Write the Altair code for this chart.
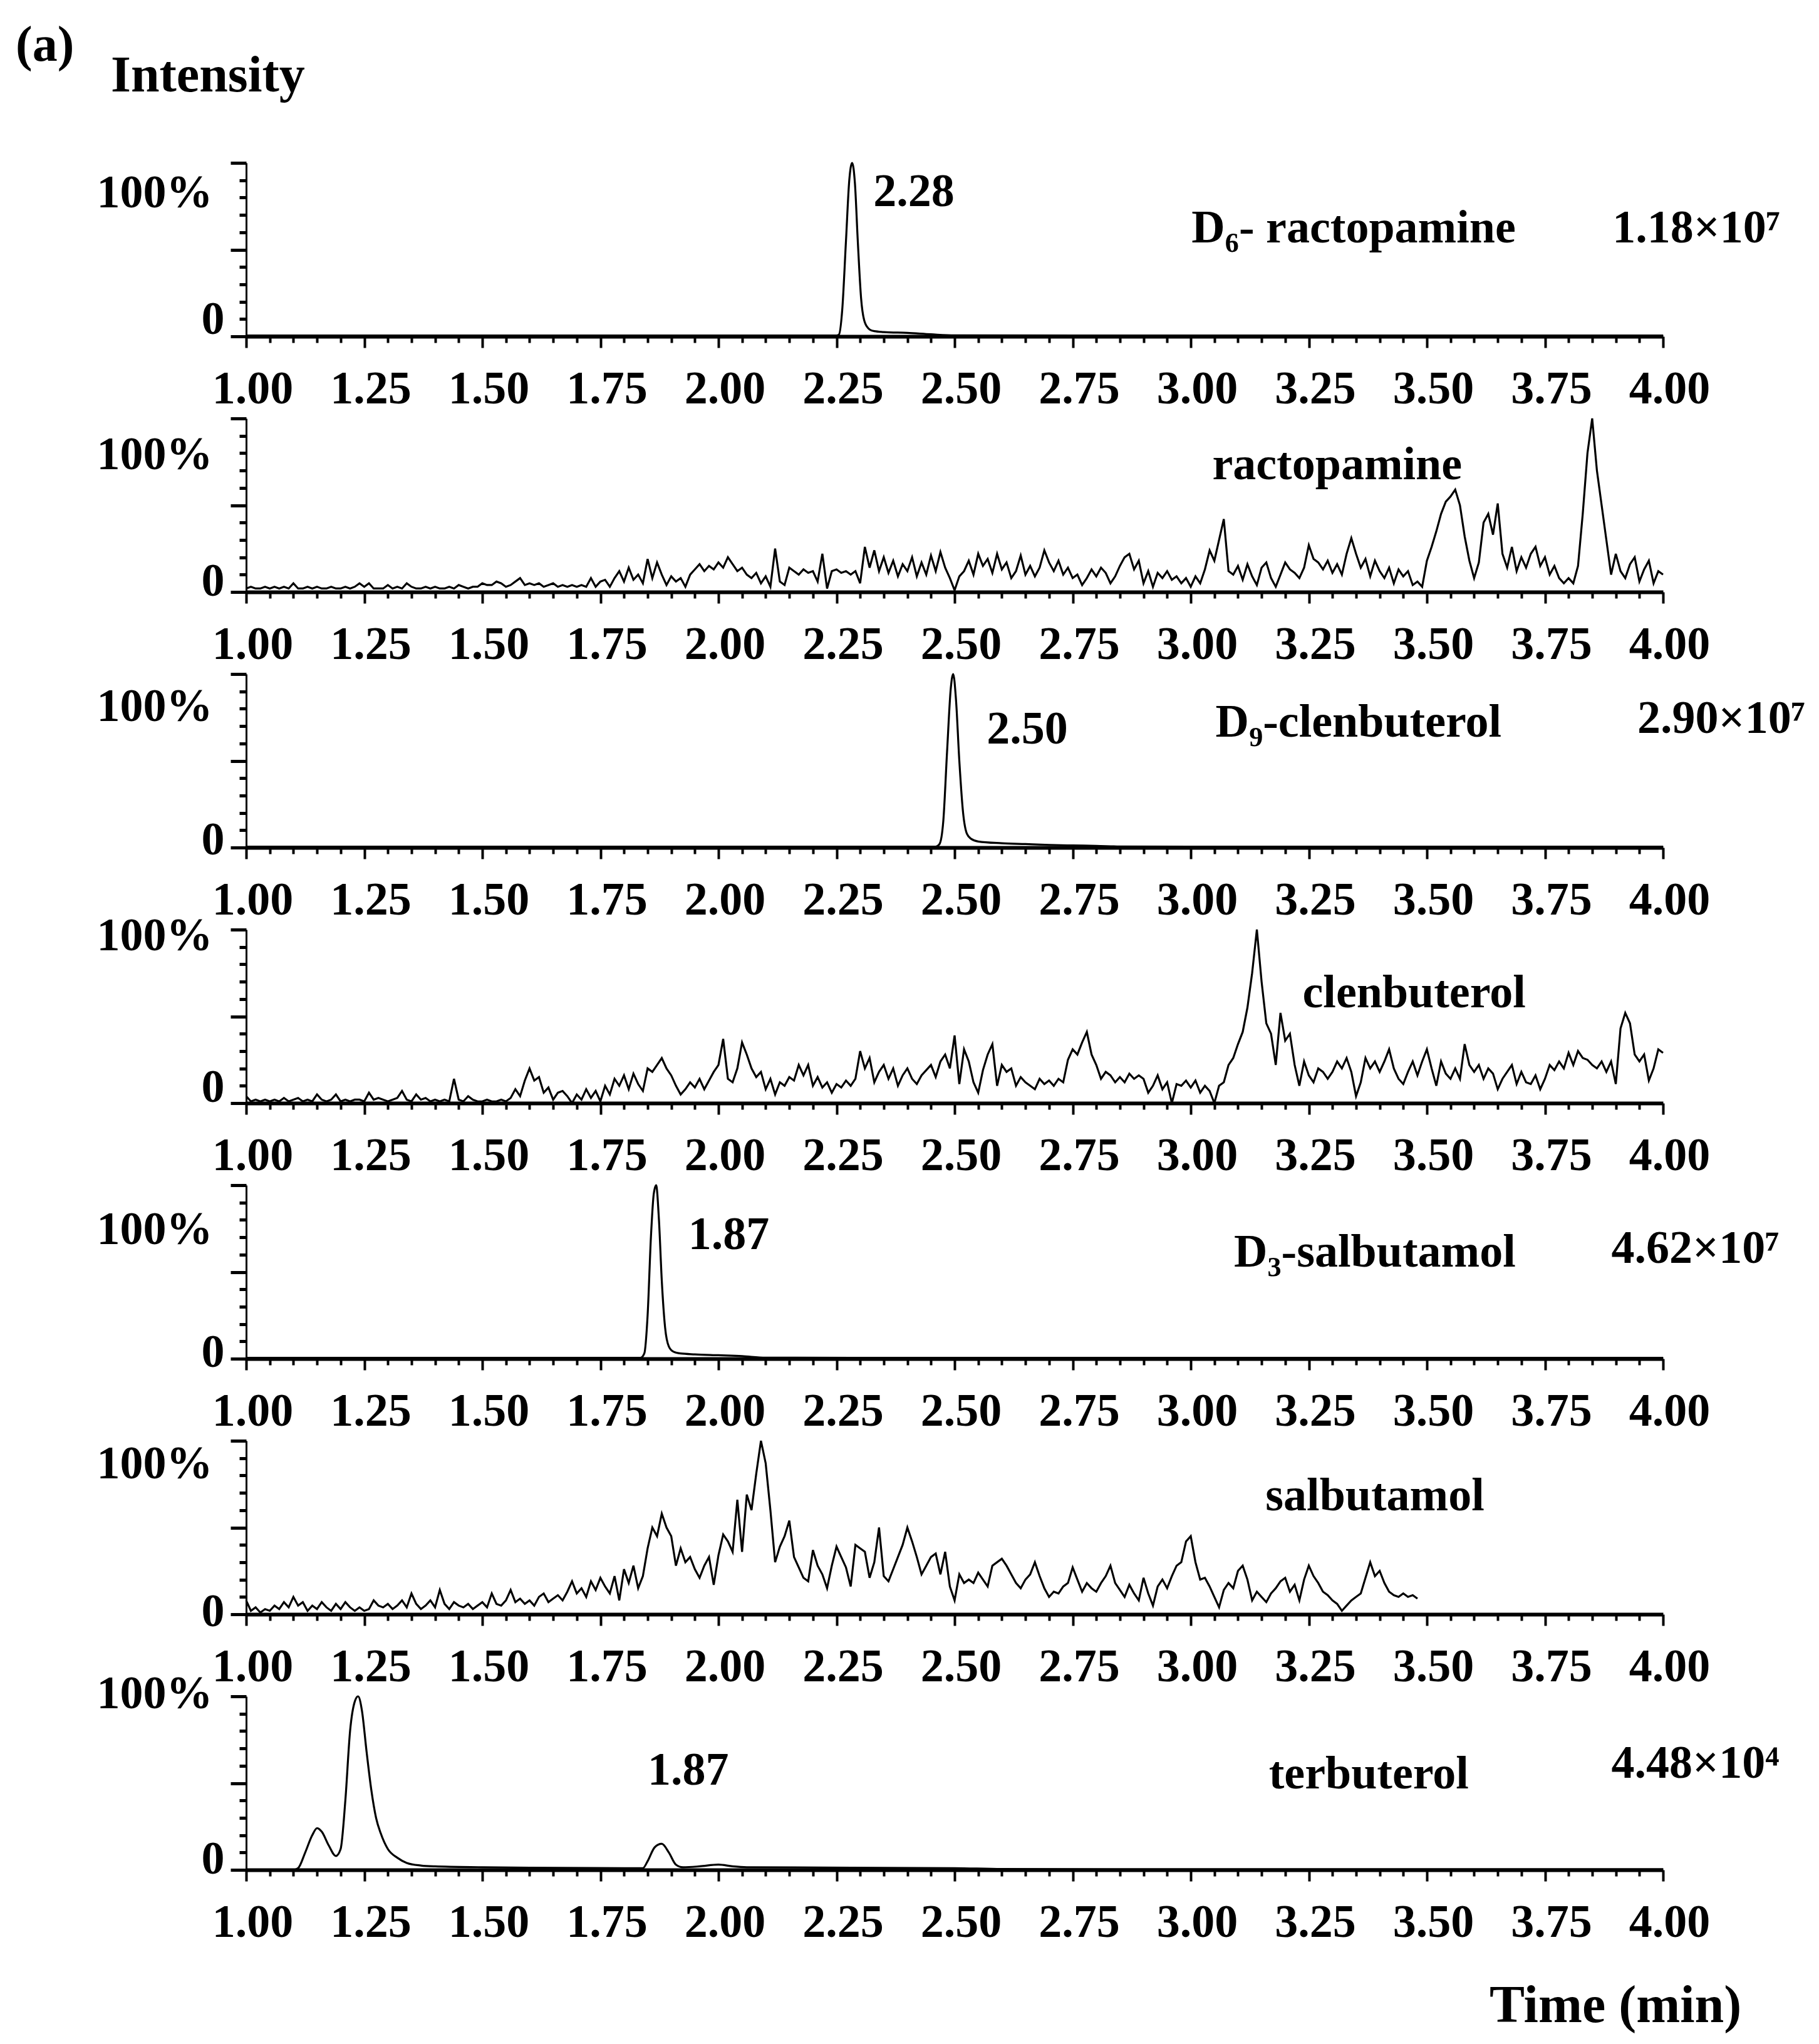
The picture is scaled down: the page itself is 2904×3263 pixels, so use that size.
import altair as alt
import pandas as pd

FONT = "Liberation Serif"

# ---------------- axis tick values ----------------
X_TICKS = [round(1.0 + 0.05 * i, 2) for i in range(61)]
Y_TICKS = [0, 10, 20, 30, 40, 50, 60, 70, 80, 90, 100]

SCAN_STEP = 0.01


def scan_times(start, n):
    return [round(start + SCAN_STEP * i, 2) for i in range(n)]


# ---------------- traces (relative intensity, %) ----------------
# D6-ractopamine
D6R_T = [1.00, 1.50, 2.00, 2.25, 2.255, 2.262, 2.27, 2.277, 2.283, 2.289, 2.295,
         2.302, 2.31, 2.32, 2.33, 2.35, 2.40, 2.45, 2.50, 3.00, 3.50, 4.00]
D6R_V = [0.5, 0.5, 0.5, 0.5, 1, 15, 55, 90, 100, 88, 55,
         22, 8, 4, 3, 2.5, 2, 1.2, 0.6, 0.5, 0.5, 0.5]

# ractopamine (scans from 1.00 min, 0.01 min apart)
RAC_V = [
    2, 3, 2, 2, 3, 2, 3, 2, 3, 2,
    5, 2, 2, 3, 2, 3, 2, 2, 3, 2,
    2, 3, 2, 3, 5, 3, 5, 2, 2, 2,
    4, 2, 3, 2, 5, 3, 2, 2, 3, 2,
    3, 2, 2, 3, 2, 4, 3, 2, 3, 3,
    5, 4, 4, 6, 5, 3, 4, 6, 8, 4,
    5, 4, 5, 3, 4, 5, 3, 4, 3, 4,
    3, 4, 3, 8, 3, 6, 7, 3, 8, 12,
    6, 14, 7, 10, 5, 19, 8, 17, 10, 4,
    9, 6, 8, 3, 10, 13, 16, 12, 15, 13,
    17, 14, 20, 16, 12, 14, 10, 8, 11, 5,
    9, 3, 25, 6, 4, 14, 12, 10, 13, 11,
    12, 6, 22, 2, 12, 13, 11, 12, 10, 12,
    5, 26, 14, 24, 12, 20, 11, 18, 9, 16,
    12, 20, 9, 17, 10, 21, 12, 23, 14, 8,
    1, 9, 12, 18, 10, 22, 15, 19, 11, 22,
    13, 17, 8, 12, 21, 10, 15, 9, 14, 24,
    17, 12, 18, 10, 14, 8, 10, 4, 8, 13,
    9, 14, 11, 5, 9, 15, 20, 22, 13, 18,
    5, 12, 3, 11, 8, 12, 7, 9, 5, 8,
    3, 9, 5, 13, 24, 18, 30, 42, 12, 10,
    15, 7, 16, 9, 4, 14, 17, 8, 3, 10,
    17, 13, 11, 8, 14, 27, 19, 17, 13, 18,
    11, 16, 10, 22, 31, 22, 14, 19, 9, 18,
    12, 8, 14, 5, 13, 9, 12, 4, 6, 3,
    18, 26, 35, 45, 52, 55, 59, 50, 32, 18,
    8, 17, 40, 45, 33, 51, 22, 14, 26, 12,
    20, 14, 22, 26, 15, 20, 10, 15, 8, 5,
    8, 5, 15, 45, 80, 100, 70, 50, 30, 10,
    22, 12, 8, 16, 20, 6, 13, 18, 5, 12,
    10,
]

# D9-clenbuterol
D9C_T = [1.00, 2.00, 2.46, 2.468, 2.476, 2.484, 2.492, 2.497, 2.503, 2.51, 2.518,
         2.526, 2.535, 2.55, 2.60, 2.65, 2.70, 2.75, 2.80, 2.85, 3.00, 4.00]
D9C_V = [0.5, 0.5, 0.5, 2, 15, 55, 92, 100, 85, 50, 20,
         8, 5, 3.5, 2.5, 2, 1.5, 1.2, 1, 0.6, 0.5, 0.5]

# clenbuterol (scans from 1.00 min)
CLE_V = [
    4, 1, 2, 1, 2, 1, 2, 1, 3, 1,
    2, 3, 1, 2, 1, 5, 2, 1, 2, 5,
    1, 2, 1, 2, 2, 1, 6, 2, 3, 2,
    1, 2, 3, 7, 2, 1, 5, 2, 3, 1,
    2, 1, 2, 1, 14, 2, 1, 4, 2, 1,
    1, 2, 1, 1, 2, 1, 3, 8, 4, 13,
    20, 13, 15, 6, 9, 2, 6, 7, 4, 0,
    5, 2, 8, 3, 7, 1, 10, 5, 14, 10,
    16, 8, 17, 11, 7, 20, 18, 22, 26, 20,
    16, 10, 5, 8, 12, 9, 14, 8, 13, 18,
    22, 37, 14, 12, 20, 35, 28, 20, 15, 18,
    8, 14, 5, 12, 10, 15, 13, 22, 16, 22,
    10, 15, 9, 12, 6, 11, 9, 13, 10, 14,
    30, 20, 26, 12, 18, 22, 14, 20, 10, 16,
    20, 14, 11, 16, 19, 22, 15, 24, 28, 20,
    39, 11, 31, 24, 12, 6, 19, 28, 34, 10,
    22, 18, 20, 10, 15, 12, 10, 8, 14, 11,
    13, 10, 14, 12, 25, 31, 28, 35, 41, 28,
    22, 14, 18, 16, 12, 15, 12, 17, 14, 16,
    14, 6, 10, 16, 8, 12, 0, 11, 10, 13,
    9, 13, 6, 10, 7, 0, 10, 12, 22, 26,
    34, 41, 55, 75, 100, 70, 46, 40, 22, 52,
    36, 40, 22, 10, 24, 16, 12, 20, 18, 14,
    18, 24, 20, 26, 18, 4, 12, 26, 20, 24,
    18, 24, 31, 20, 14, 11, 18, 24, 16, 24,
    31, 20, 10, 24, 17, 14, 20, 14, 34, 22,
    18, 22, 14, 20, 17, 8, 14, 18, 22, 11,
    18, 12, 11, 16, 8, 14, 22, 19, 24, 20,
    29, 22, 30, 26, 25, 22, 20, 24, 18, 24,
    11, 43, 52, 46, 28, 24, 28, 13, 20, 31,
    29,
]

# D3-salbutamol
D3S_T = [1.00, 1.50, 1.835, 1.843, 1.85, 1.857, 1.863, 1.868, 1.874, 1.88, 1.887,
         1.895, 1.905, 1.92, 1.95, 2.00, 2.05, 2.10, 2.50, 4.00]
D3S_V = [0.5, 0.5, 0.5, 3, 25, 70, 95, 100, 80, 45, 18,
         7, 4, 3, 2.5, 2, 1.5, 0.6, 0.5, 0.5]

# salbutamol (scans from 1.00 min to 3.48 min)
SAL_V = [
    8, 2, 4, 1, 3, 2, 5, 3, 7, 4,
    10, 5, 7, 2, 5, 3, 7, 4, 2, 6,
    3, 7, 4, 2, 4, 2, 3, 8, 5, 4,
    6, 3, 5, 8, 4, 12, 6, 3, 5, 8,
    4, 14, 6, 3, 7, 5, 4, 6, 3, 5,
    7, 4, 12, 6, 5, 8, 14, 7, 9, 6,
    8, 5, 10, 12, 7, 9, 11, 8, 13, 19,
    12, 15, 10, 19, 14, 21, 16, 12, 22, 8,
    26, 18, 28, 15, 22, 38, 50, 45, 58, 50,
    45, 28, 38, 30, 33, 26, 21, 28, 33, 17,
    34, 46, 42, 36, 66, 36, 69, 60, 81, 100,
    87, 60, 30, 39, 45, 54, 33, 27, 21, 19,
    37, 28, 23, 15, 28, 39, 33, 27, 16, 40,
    38, 36, 21, 30, 50, 22, 19, 26, 33, 40,
    50, 42, 33, 23, 28, 33, 35, 23, 36, 16,
    8, 23, 18, 20, 18, 24, 20, 16, 28, 30,
    32, 28, 23, 18, 15, 20, 23, 30, 22, 15,
    10, 13, 12, 16, 18, 27, 20, 13, 18, 15,
    13, 18, 22, 28, 18, 14, 10, 17, 12, 8,
    21, 12, 5, 16, 20, 15, 22, 28, 30, 42,
    45, 30, 20, 21, 16, 10, 4, 14, 18, 15,
    25, 28, 20, 8, 13, 10, 7, 12, 15, 19,
    21, 13, 17, 8, 20, 28, 22, 18, 13, 11,
    8, 6, 2, 5, 8, 10, 12, 21, 30, 22,
    25, 18, 13, 11, 10, 12, 10, 11, 9,
]

# terbuterol
TER_T = [1.00, 1.10, 1.11, 1.125, 1.14, 1.15, 1.16, 1.175, 1.19, 1.20, 1.21, 1.22,
         1.23, 1.237, 1.245, 1.255, 1.265, 1.275, 1.285, 1.30, 1.32, 1.34, 1.37,
         1.40, 1.50, 1.60, 1.80, 1.84, 1.85, 1.865, 1.88, 1.895, 1.91, 1.925,
         1.96, 2.00, 2.03, 2.06, 2.50, 2.60, 3.00, 4.00]
TER_V = [0, 0, 1, 10, 20, 24, 22, 14, 8, 12, 40, 80,
         97, 100, 92, 68, 46, 30, 21, 12, 7, 4, 2.5,
         2, 1.5, 1.2, 1, 1, 5, 13, 15, 10, 3, 1.5,
         2, 3, 2, 1.5, 1, 0.5, 0.3, 0.3]

# ---------------- annotations: (text, time, %, align, font size) ----------------
NOTES = [
    [("(a)", 0.512, 167.5, "left", 80), ("Intensity", 0.7135, 150.2, "left", 82),
     ("2.28", 2.328, 83, "left", 74), ("D₆- ractopamine", 3.688, 62, "right", 74),
     ("1.18×10⁷", 4.248, 62, "right", 74)],
    [("ractopamine", 3.31, 73, "center", 74)],
    [("2.50", 2.568, 68, "left", 74), ("D₉-clenbuterol", 3.658, 72, "right", 74),
     ("2.90×10⁷", 4.301, 74, "right", 74)],
    [("clenbuterol", 3.473, 63, "center", 74)],
    [("1.87", 1.936, 71, "left", 74), ("D₃-salbutamol", 3.688, 61, "right", 74),
     ("4.62×10⁷", 4.246, 63, "right", 74)],
    [("salbutamol", 3.39, 68, "center", 74)],
    [("1.87", 1.85, 57, "left", 74), ("terbuterol", 3.377, 55, "center", 74),
     ("4.48×10⁴", 4.246, 61, "right", 74), ("Time (min)", 4.166, -78.7, "right", 84)],
]

LABEL100_OFFSET = [48, 58, 52, 10, 71, 37, -4]
LABEL0_OFFSET = [-27, -17, -12, -25, -10, -4, -17]

PANEL_W = 2262
PANEL_H = 277


def cond(test, a, b):
    return {"condition": {"test": test, "value": a}, "value": b}


MAJ_X = "abs(datum.value*4 - round(datum.value*4)) < 0.001"

XAXIS = alt.Axis(
    values=X_TICKS, title=None, grid=False,
    domainColor="black", domainWidth=6,
    tickColor="black", tickWidth=4, tickSize=cond(MAJ_X, 18, 10),
    labelExpr=f"({MAJ_X}) ? format(datum.value, '.2f') : ''",
    labelFont=FONT, labelFontWeight="bold", labelFontSize=74, labelColor="black",
    labelPadding=30, labelFlush=False, labelOverlap=False, labelOffset=10,
    labelLimit=0,
)


def yaxis(off100, off0):
    return alt.Axis(
        values=Y_TICKS, title=None, grid=False,
        domainColor="black", domainWidth=3,
        tickColor="black", tickWidth=5,
        tickSize=cond("datum.value % 50 == 0", 25, 11),
        labelExpr="datum.value == 100 ? '100%' : (datum.value == 0 ? '0' : '')",
        labelFont=FONT, labelFontWeight="bold", labelFontSize=74, labelColor="black",
        labelOffset=cond("datum.value == 100", off100, off0),
        labelPadding=cond("datum.value == 100", 29, 10),
        labelOverlap=False, labelFlush=False, labelLimit=0,
    )


def panel(times, values, interp, idx):
    df = pd.DataFrame({"t": times, "v": values})
    xenc = alt.X("t:Q", scale=alt.Scale(domain=[1, 4], nice=False, zero=False), axis=XAXIS)
    yenc = alt.Y("v:Q", scale=alt.Scale(domain=[0, 100], nice=False, zero=False),
                 axis=yaxis(LABEL100_OFFSET[idx], LABEL0_OFFSET[idx]))
    layers = [
        alt.Chart(df).mark_line(color="black", strokeWidth=3.2, interpolate=interp)
        .encode(x=xenc, y=yenc)
    ]
    nd = pd.DataFrame(NOTES[idx], columns=["label", "t", "v", "align", "fs"])
    for al in ["left", "center", "right"]:
        sub = nd[nd["align"] == al]
        if len(sub):
            layers.append(
                alt.Chart(sub).mark_text(align=al, baseline="middle", font=FONT,
                                         fontWeight="bold", color="black")
                .encode(x=xenc, y=yenc, text="label:N",
                        size=alt.Size("fs:Q", scale=None, legend=None))
            )
    return alt.layer(*layers).properties(width=PANEL_W, height=PANEL_H)


panels = [
    panel(D6R_T, D6R_V, "monotone", 0),
    panel(scan_times(1.0, len(RAC_V)), RAC_V, "linear", 1),
    panel(D9C_T, D9C_V, "monotone", 2),
    panel(scan_times(1.0, len(CLE_V)), CLE_V, "linear", 3),
    panel(D3S_T, D3S_V, "monotone", 4),
    panel(scan_times(1.0, len(SAL_V)), SAL_V, "linear", 5),
    panel(TER_T, TER_V, "monotone", 6),
]

chart = alt.vconcat(*panels, spacing=131, bounds="flush").properties(
    padding={"left": 17, "top": 25, "right": 5, "bottom": 5},
    background="white",
).configure_view(stroke=None)

chart.save("out.html", embed_options={"renderer": "svg", "actions": False})
